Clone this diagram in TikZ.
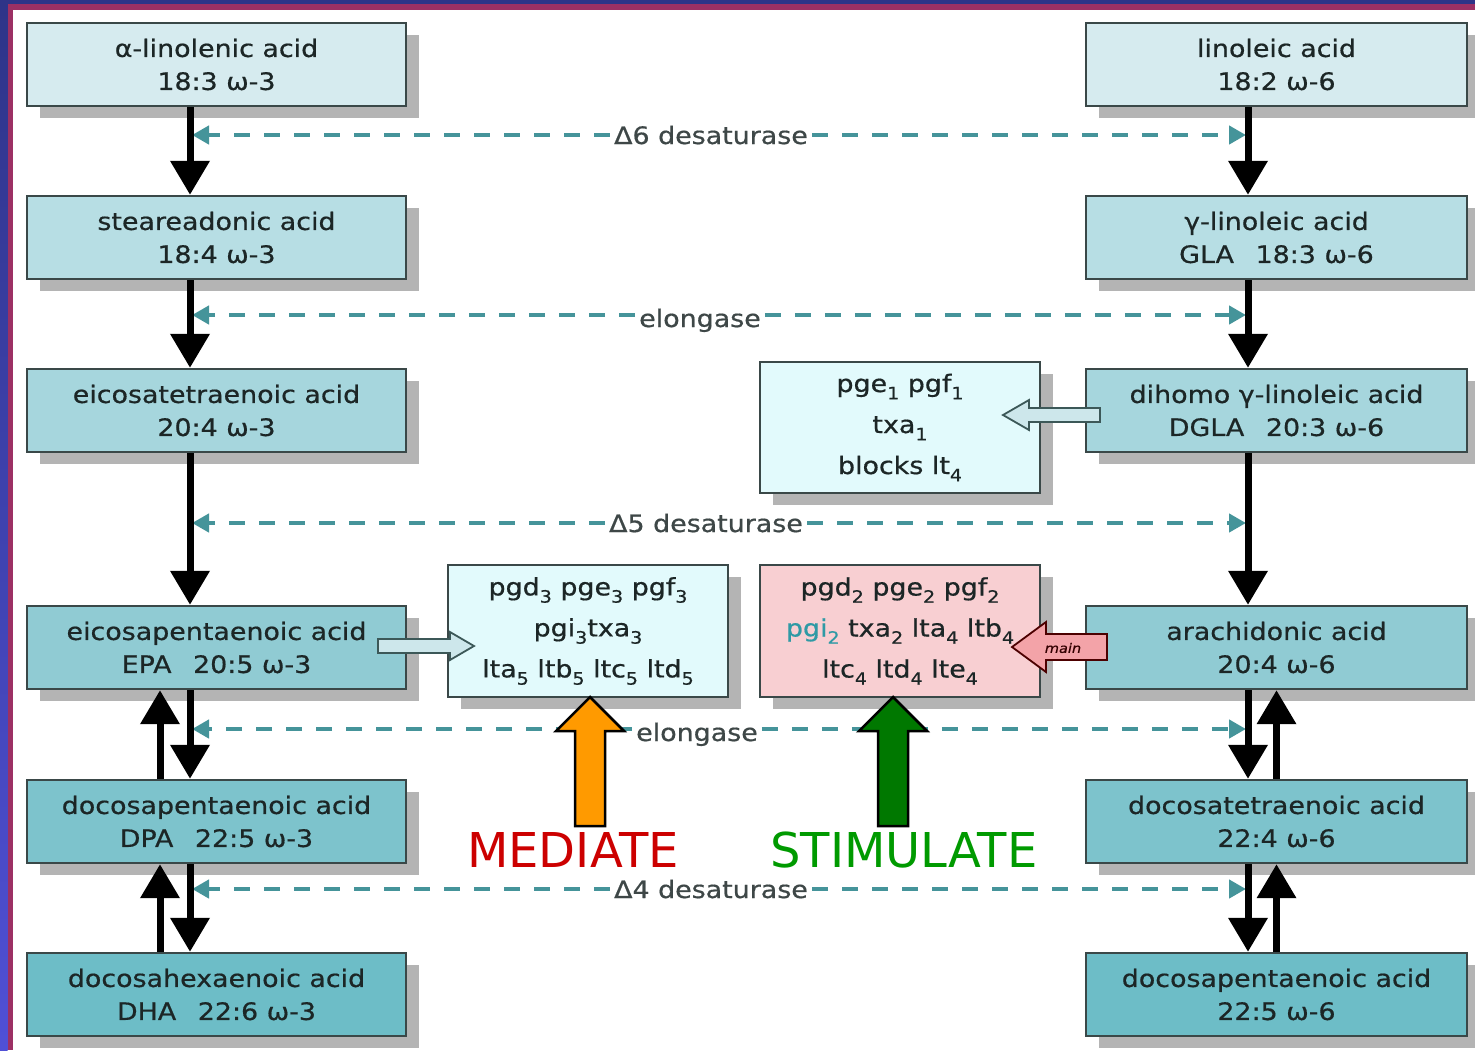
\documentclass[tikz,border=0pt]{standalone}
\usepackage{fontspec}
\setmainfont{DejaVu Sans}[FakeStretch=1.12,FakeBold=0.6]
\newfontfamily\bigsans{DejaVu Sans}
\usetikzlibrary{arrows.meta,shadows,calc}
\definecolor{rowA}{HTML}{D6EBEF}
\definecolor{rowB}{HTML}{B7DEE4}
\definecolor{rowC}{HTML}{A6D6DD}
\definecolor{rowD}{HTML}{90CBD3}
\definecolor{rowE}{HTML}{7DC3CC}
\definecolor{rowF}{HTML}{6DBDC7}
\definecolor{boxline}{HTML}{3A4848}
\definecolor{txt}{HTML}{1C2626}
\definecolor{shadowgray}{HTML}{B4B4B4}
\definecolor{dashteal}{HTML}{45949A}
\definecolor{lightcyan}{HTML}{E2FAFC}
\definecolor{pinkbox}{HTML}{F8CFD2}
\definecolor{pinkarrow}{HTML}{F3A3A8}
\definecolor{fatfill}{HTML}{CDE7EB}
\definecolor{fatline}{HTML}{3C5858}
\definecolor{frameblue}{HTML}{2E3488}
\definecolor{frameblueb}{HTML}{5050D6}
\definecolor{framemag}{HTML}{9C3064}
\definecolor{orangeA}{HTML}{FF9A00}
\definecolor{greenA}{HTML}{007800}
\definecolor{medred}{HTML}{CC0000}
\definecolor{stimgreen}{HTML}{009A00}
\definecolor{pgiteal}{HTML}{2F9AA5}
\newcommand\ssb[1]{\raisebox{-0.3em}{\fontsize{17}{17}\selectfont #1}}
\tikzset{
  acidbox/.style={draw=boxline, line width=2.4pt, minimum width=379pt, minimum height=83pt,
    align=center, text=txt, font=\fontsize{24}{33}\selectfont, inner sep=0pt,
    drop shadow={shadow xshift=13pt, shadow yshift=-12pt, fill=shadowgray, opacity=1}},
  prodbox/.style={draw=boxline, line width=2.4pt, minimum width=280pt, minimum height=131pt,
    align=center, text=txt, font=\fontsize{24}{41}\selectfont, inner sep=0pt,
    drop shadow={shadow xshift=13pt, shadow yshift=-12pt, fill=shadowgray, opacity=1}},
  bigarrow/.style={draw=black, line width=7pt, -{Triangle[width=38pt,length=34pt]}},
  dashline/.style={draw=dashteal, line width=4.5pt, dash pattern=on 16pt off 14pt,
    -{Triangle[width=18pt,length=17pt,fill=dashteal]}},
  enzlabel/.style={fill=white, text=txt!85, font=\fontsize{24}{28}\selectfont, inner xsep=4pt, inner ysep=2pt, anchor=base},
  fatarrow/.style={fill=fatfill, draw=fatline, line width=1.8pt, line join=miter},
  uparrow/.style={draw=black, line width=2.5pt, line join=miter},
}
\begin{document}
\begin{tikzpicture}[x=1pt,y=-1pt]
\useasboundingbox (0,0) rectangle (1475,1050);
% background and frame
\fill[white] (0,0) rectangle (1475,1050);
\fill[frameblue] (0,0) rectangle (1475,3.5);
\fill[framemag] (7.5,3.5) rectangle (1475,10);
\shade[top color=frameblue, bottom color=frameblueb] (0,0) rectangle (7.5,1050);
\fill[framemag] (7.5,3.5) rectangle (13,1050);

% left column (omega-3)
\node[acidbox, fill=rowA] (l1) at (216.5,64.5) {α-linolenic acid\\18:3 ω-3};
\node[acidbox, fill=rowB] (l2) at (216.5,237.5) {steareadonic acid\\18:4 ω-3};
\node[acidbox, fill=rowC] (l3) at (216.5,410.5) {eicosatetraenoic acid\\20:4 ω-3};
\node[acidbox, fill=rowD] (l4) at (216.5,647.5) {eicosapentaenoic acid\\EPA\hspace{0.9em}20:5 ω-3};
\node[acidbox, fill=rowE] (l5) at (216.5,821.5) {docosapentaenoic acid\\DPA\hspace{0.9em}22:5 ω-3};
\node[acidbox, fill=rowF] (l6) at (216.5,994.5) {docosahexaenoic acid\\DHA\hspace{0.9em}22:6 ω-3};

% right column (omega-6)
\node[acidbox, fill=rowA, minimum width=381pt] (r1) at (1276.5,64.5) {linoleic acid\\18:2 ω-6};
\node[acidbox, fill=rowB, minimum width=381pt] (r2) at (1276.5,237.5) {γ-linoleic acid\\GLA\hspace{0.9em}18:3 ω-6};
\node[acidbox, fill=rowC, minimum width=381pt] (r3) at (1276.5,410.5) {dihomo γ-linoleic acid\\DGLA\hspace{0.9em}20:3 ω-6};
\node[acidbox, fill=rowD, minimum width=381pt] (r4) at (1276.5,647.5) {arachidonic acid\\20:4 ω-6};
\node[acidbox, fill=rowE, minimum width=381pt] (r5) at (1276.5,821.5) {docosatetraenoic acid\\22:4 ω-6};
\node[acidbox, fill=rowF, minimum width=381pt] (r6) at (1276.5,994.5) {docosapentaenoic acid\\22:5 ω-6};

% product boxes
\node[prodbox, fill=lightcyan] (p1) at (900,427.5) {pge\ssb{1} pgf\ssb{1}\\txa\ssb{1}\\blocks lt\ssb{4}};
\node[prodbox, fill=lightcyan, minimum height=132pt] (p3) at (588,631) {pgd\ssb{3} pge\ssb{3} pgf\ssb{3}\\pgi\ssb{3}txa\ssb{3}\\lta\ssb{5} ltb\ssb{5} ltc\ssb{5} ltd\ssb{5}};
\node[prodbox, fill=pinkbox, minimum height=132pt] (p2) at (900,631) {pgd\ssb{2} pge\ssb{2} pgf\ssb{2}\\{\color{pgiteal}pgi\ssb{2}} txa\ssb{2} lta\ssb{4} ltb\ssb{4}\\ltc\ssb{4} ltd\ssb{4} lte\ssb{4}};

% enzyme dashed connectors
\coordinate (d1a) at (192,135);  \coordinate (d1b) at (1246,135);
\coordinate (d2a) at (192,315);  \coordinate (d2b) at (1246,315);
\coordinate (d3a) at (192,523);  \coordinate (d3b) at (1246,523);
\coordinate (d4a) at (192,729);  \coordinate (d4b) at (1246,729);
\coordinate (d5a) at (192,889);  \coordinate (d5b) at (1246,889);
\node[enzlabel] (e1) at (711,144) {Δ6 desaturase};
\node[enzlabel] (e2) at (700,327) {elongase};
\node[enzlabel] (e3) at (706,532) {Δ5 desaturase};
\node[enzlabel] (e4) at (697,741) {elongase};
\node[enzlabel] (e5) at (711,898) {Δ4 desaturase};
\foreach \e/\a/\b in {e1/d1a/d1b, e2/d2a/d2b, e3/d3a/d3b, e4/d4a/d4b, e5/d5a/d5b}{
  \draw[dashline] (\e.west |- \a) -- (\a);
  \draw[dashline] (\e.east |- \b) -- (\b);
}

% metabolic arrows, left
\draw[bigarrow] ([xshift=-26.5pt]l1.south) -- ([xshift=-26.5pt]l2.north);
\draw[bigarrow] ([xshift=-26.5pt]l2.south) -- ([xshift=-26.5pt]l3.north);
\draw[bigarrow] ([xshift=-26.5pt]l3.south) -- ([xshift=-26.5pt]l4.north);
\draw[bigarrow] ([xshift=-26.5pt]l4.south) -- ([xshift=-26.5pt]l5.north);
\draw[bigarrow] ([xshift=-56.5pt]l5.north) -- ([xshift=-56.5pt]l4.south);
\draw[bigarrow] ([xshift=-26.5pt]l5.south) -- ([xshift=-26.5pt]l6.north);
\draw[bigarrow] ([xshift=-56.5pt]l6.north) -- ([xshift=-56.5pt]l5.south);
% metabolic arrows, right
\draw[bigarrow] ([xshift=-28.5pt]r1.south) -- ([xshift=-28.5pt]r2.north);
\draw[bigarrow] ([xshift=-28.5pt]r2.south) -- ([xshift=-28.5pt]r3.north);
\draw[bigarrow] ([xshift=-28.5pt]r3.south) -- ([xshift=-28.5pt]r4.north);
\draw[bigarrow] ([xshift=-28.5pt]r4.south) -- ([xshift=-28.5pt]r5.north);
\draw[bigarrow] (r5.north) -- (r4.south);
\draw[bigarrow] ([xshift=-28.5pt]r5.south) -- ([xshift=-28.5pt]r6.north);
\draw[bigarrow] (r6.north) -- (r5.south);

% hollow arrows
\draw[fatarrow] (1100,408) -- (1029,408) -- (1029,400) -- (1003,415) -- (1029,430) -- (1029,422) -- (1100,422) -- cycle;
\draw[fatarrow] (378,639) -- (450,639) -- (450,632) -- (474,646) -- (450,660) -- (450,653) -- (378,653) -- cycle;
\draw[fill=pinkarrow, draw=black!70!red, line width=1.8pt, line join=miter]
  (1107,634) -- (1046,634) -- (1046,622) -- (1012,647) -- (1046,672) -- (1046,660) -- (1107,660) -- cycle;
\node[font=\fontsize{13}{13}\selectfont\itshape, text=black!80!red] (mainlbl) at (1063,648) {main};

% mediate / stimulate arrows
\draw[uparrow, fill=orangeA] (575,826) -- (575,731) -- (556,731) -- (590,697) -- (624,731) -- (605,731) -- (605,826) -- cycle;
\draw[uparrow, fill=greenA] (878,826) -- (878,731) -- (859,731) -- (893,697) -- (927,731) -- (908,731) -- (908,826) -- cycle;
\node[font=\bigsans\fontsize{48}{48}\selectfont, text=medred] (med) at (573,850) {MEDIATE};
\node[font=\bigsans\fontsize{48}{48}\selectfont, text=stimgreen] (stim) at (904,850) {STIMULATE};
\end{tikzpicture}
\end{document}
